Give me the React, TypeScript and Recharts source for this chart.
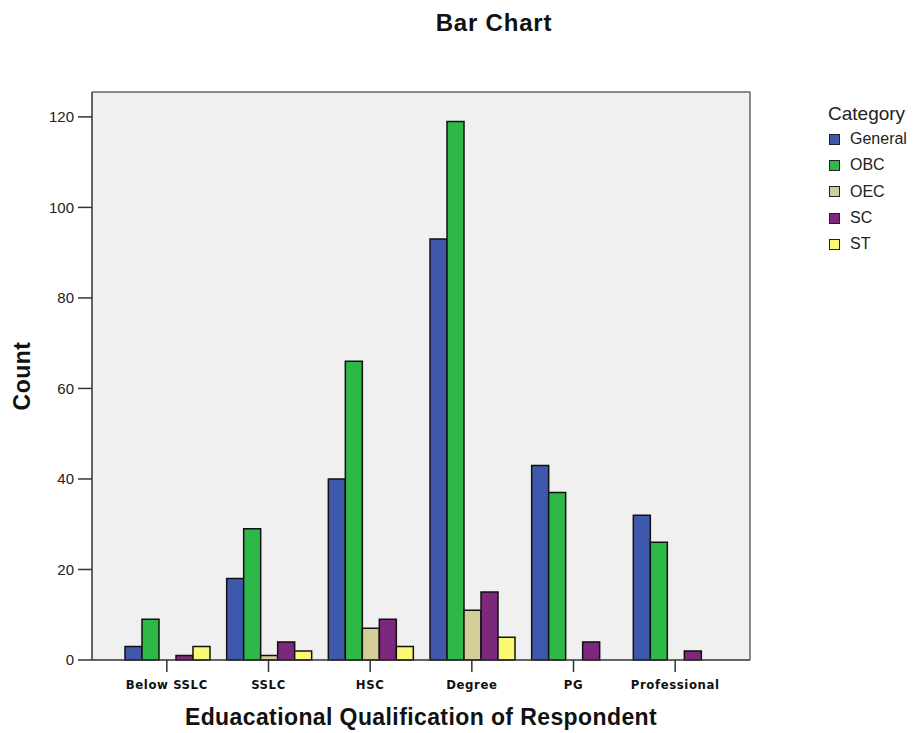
import React from 'react';
import { BarChart, Bar, XAxis, YAxis, CartesianGrid } from 'recharts';

const qualifications = ['Below SSLC', 'SSLC', 'HSC', 'Degree', 'PG', 'Professional'];
const general = [3, 18, 40, 93, 43, 32];
const obc = [9, 29, 66, 119, 37, 26];
const oec = [0, 1, 7, 11, 0, 0];
const sc = [1, 4, 9, 15, 4, 2];
const st = [3, 2, 3, 5, 0, 0];
const yTicks = [0, 20, 40, 60, 80, 100, 120];

const series = [
  { key: 'General', color: '#3e58ac' },
  { key: 'OBC', color: '#2eb848' },
  { key: 'OEC', color: '#d3ce97' },
  { key: 'SC', color: '#7c287d' },
  { key: 'ST', color: '#fbf873' },
];

const data = qualifications.map((q, i) => ({
  name: q,
  General: general[i],
  OBC: obc[i],
  OEC: oec[i],
  SC: sc[i],
  ST: st[i],
}));

const font = 'Arial, "Liberation Sans", sans-serif';

const CategoryLegend = () => (
  <div style={{ position: 'absolute', left: 828, top: 102, fontFamily: font, color: '#222' }}>
    <div style={{ fontSize: 19, marginBottom: 0, lineHeight: '24px' }}>Category</div>
    {series.map((s) => (
      <div key={s.key} style={{ display: 'flex', alignItems: 'center', height: 26.3, fontSize: 16 }}>
        <span
          style={{
            display: 'inline-block',
            width: 9,
            height: 9,
            background: s.color,
            border: '1px solid #222',
            marginRight: 10,
            marginLeft: 1,
          }}
        />
        {s.key}
      </div>
    ))}
  </div>
);

const titleStyle: React.CSSProperties = {
  position: 'absolute',
  fontFamily: font,
  fontWeight: 'bold',
  color: '#111',
  whiteSpace: 'nowrap',
};

const App: React.FC = () => {
  return (
    <div style={{ position: 'absolute', left: 0, top: 0, width: 913, height: 733, background: '#fff' }}>
      <div style={{ ...titleStyle, left: 0, width: 988, top: 9, textAlign: 'center', fontSize: 24, letterSpacing: 0.8 }}>
        Bar Chart
      </div>
      <BarChart
        width={913}
        height={733}
        data={data}
        margin={{ top: 92, right: 163, bottom: 43, left: 32 }}
        barCategoryGap={9}
        barGap={0}
      >
        {/* plot background plus the top/right frame lines */}
        <CartesianGrid
          fill="#f0f0f0"
          stroke="#666"
          strokeWidth={1.5}
          horizontalCoordinatesGenerator={({ offset }: any) => [offset.top]}
          verticalCoordinatesGenerator={({ offset }: any) => [offset.left + offset.width]}
        />
        <XAxis
          dataKey="name"
          height={30}
          padding={{ left: 24, right: 24 }}
          tickSize={12}
          tickMargin={8}
          axisLine={{ stroke: '#333', strokeWidth: 1.5 }}
          tickLine={{ stroke: '#333', strokeWidth: 1.5 }}
          tick={{
            fill: '#111',
            fontSize: 13,
            fontWeight: 'bold',
            letterSpacing: 0.6,
            fontFamily: '"DejaVu Sans Condensed", "Liberation Sans Narrow", sans-serif',
          }}
        />
        <YAxis
          domain={[0, 125.5]}
          ticks={yTicks}
          width={60}
          tickSize={14}
          tickMargin={4}
          axisLine={{ stroke: '#333', strokeWidth: 1.5 }}
          tickLine={{ stroke: '#333', strokeWidth: 1.5 }}
          tick={{ fill: '#222', fontSize: 15, fontFamily: font }}
        />
        {series.map((s) => (
          <Bar
            key={s.key}
            dataKey={s.key}
            fill={s.color}
            stroke="#111"
            strokeWidth={1.5}
            isAnimationActive={false}
          />
        ))}
      </BarChart>
      <CategoryLegend />
      <div style={{ ...titleStyle, left: 92, width: 658, top: 704, textAlign: 'center', fontSize: 23, letterSpacing: 0.4 }}>
        Eduacational Qualification of Respondent
      </div>
      <div
        style={{
          ...titleStyle,
          left: 22,
          top: 376,
          transform: 'translate(-50%, -50%) rotate(-90deg)',
          fontSize: 23,
          letterSpacing: 0.5,
        }}
      >
        Count
      </div>
    </div>
  );
};

export default App;
